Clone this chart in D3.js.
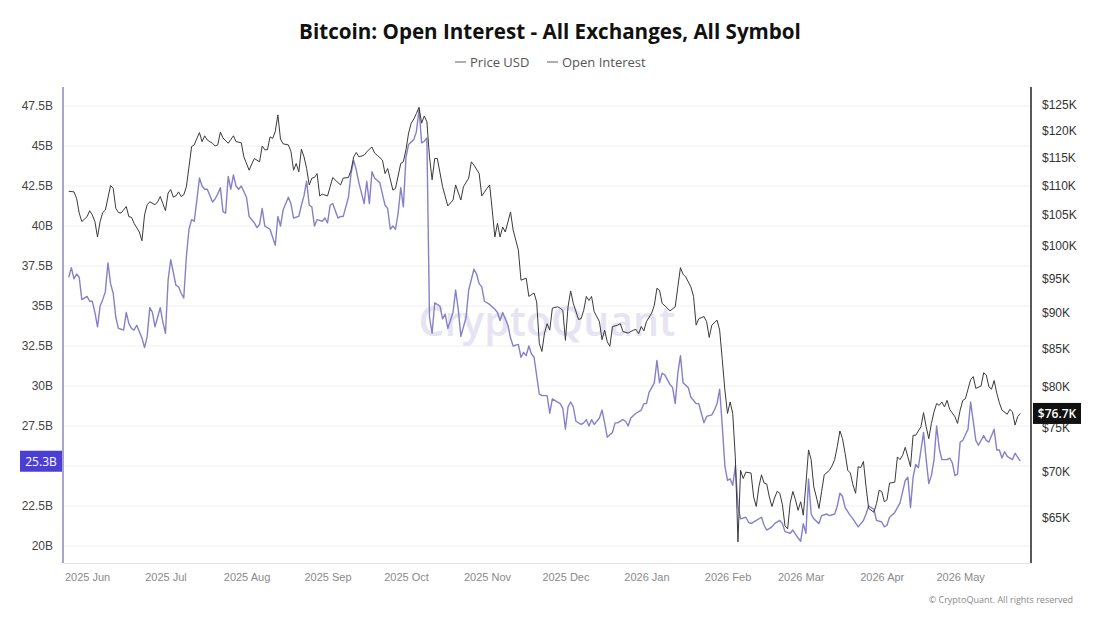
<!DOCTYPE html>
<html>
<head>
<meta charset="utf-8">
<script src="https://cdn.jsdelivr.net/npm/d3@7/dist/d3.min.js"></script>
<style>
  body { margin: 0; background: #fff; }
  svg { font-family: "Open Sans", sans-serif; }
</style>
</head>
<body>
<svg id="chart" width="1100" height="619"></svg>
<script>
// day offsets are counted from 2025-06-01
var baseDay = Date.UTC(2025, 5, 1);

// [day, price in $K]
var priceUsd = [
  [-7,109.0],[-5,108.9],[-4,107.8],[-3,105.3],[-2,103.9],[0,104.7],[1,105.7],[2,105.0],[3,103.9],[4,101.4],
  [5,103.9],[6,105.4],[7,105.8],[9,110.0],[10,109.5],[11,106.1],[12,105.4],[13,105.3],[15,106.4],[16,104.7],
  [17,104.6],[18,103.6],[20,102.2],[21,100.8],[22,105.0],[23,106.7],[24,107.2],[26,106.7],[27,107.2],[28,108.1],
  [29,106.9],[30,105.7],[31,108.7],[32,109.3],[33,108.0],[34,108.2],[35,108.9],[36,108.1],[37,108.4],[38,109.8],
  [39,113.3],[40,117.0],[41,117.3],[42,118.5],[43,119.6],[44,117.9],[45,119.0],[46,118.2],[48,117.6],[49,117.1],
  [50,117.3],[51,119.7],[52,118.6],[54,117.6],[56,119.0],[57,117.9],[59,117.7],[60,115.1],[62,112.7],[63,113.8],
  [64,114.8],[66,114.2],[67,117.1],[68,116.4],[69,116.4],[70,118.8],[71,118.5],[72,119.8],[73,123.0],[74,118.4],
  [75,117.5],[77,117.3],[78,116.1],[79,112.7],[80,113.9],[81,112.4],[82,116.5],[83,115.1],[84,113.0],[85,110.1],
  [86,111.3],[87,111.4],[88,112.1],[89,108.2],[90,108.5],[92,108.2],[93,109.8],[94,111.4],[96,110.5],[97,110.1],
  [98,111.3],[100,111.4],[101,112.7],[102,115.1],[103,115.9],[104,115.1],[106,115.4],[107,116.0],[108,116.5],[109,116.9],
  [110,115.8],[111,115.4],[113,114.5],[114,112.1],[115,113.0],[117,109.2],[118,109.5],[120,113.9],[121,114.2],[122,116.4],
  [123,119.5],[124,121.4],[125,122.2],[126,123.3],[127,124.5],[128,121.4],[129,122.8],[130,121.7],[131,115.1],[132,111.0],
  [133,114.8],[134,114.8],[136,109.8],[138,106.5],[140,107.5],[141,110.1],[143,107.5],[144,109.8],[146,111.3],[147,114.2],
  [148,113.6],[150,112.1],[151,108.2],[153,109.5],[154,110.1],[155,105.8],[156,101.4],[157,103.6],[158,101.4],[159,103.0],
  [160,102.2],[162,105.5],[163,102.5],[164,100.9],[165,99.3],[166,94.7],[168,95.0],[169,92.3],[171,92.8],[172,91.5],
  [173,85.7],[174,84.6],[175,87.1],[176,88.4],[177,87.5],[178,90.6],[180,90.8],[181,90.6],[182,90.3],[183,86.1],
  [184,90.8],[185,93.1],[186,91.3],[188,89.0],[189,89.1],[190,90.3],[191,92.3],[192,91.7],[193,92.3],[194,90.1],
  [196,88.7],[197,86.2],[198,87.5],[199,85.9],[200,85.3],[201,88.0],[203,88.2],[204,88.4],[205,87.3],[207,87.1],
  [209,87.5],[210,87.6],[211,87.0],[212,88.0],[213,87.4],[214,88.7],[216,89.9],[217,91.0],[218,93.5],[219,93.2],
  [220,91.3],[222,90.6],[223,90.2],[225,90.8],[226,93.7],[227,96.6],[228,95.6],[229,95.2],[231,93.7],[232,92.3],
  [233,88.2],[234,89.1],[236,89.4],[237,88.7],[238,86.5],[239,88.2],[241,88.9],[242,87.5],[243,83.5],[244,79.6],
  [245,76.7],[246,78.1],[247,76.7],[248,71.5],[249,62.6],[250,70.1],[251,69.2],[252,69.9],[254,69.8],[255,67.2],
  [256,66.2],[257,68.3],[258,69.6],[259,68.7],[260,68.6],[261,67.2],[262,66.2],[263,67.1],[264,67.8],[265,67.6],
  [266,66.4],[267,64.2],[268,63.9],[269,66.6],[270,67.8],[271,66.9],[272,65.8],[273,66.7],[274,65.3],[275,68.6],
  [276,72.4],[277,71.3],[278,68.3],[279,67.2],[280,66.0],[281,67.8],[282,69.6],[284,70.1],[285,70.6],[286,71.3],
  [287,72.8],[288,74.6],[289,73.7],[290,72.0],[291,70.1],[292,69.8],[293,68.5],[294,67.6],[295,70.5],[296,70.4],
  [297,71.1],[298,68.3],[299,66.0],[301,65.6],[302,66.5],[303,67.9],[304,67.8],[305,66.7],[306,66.9],[307,68.7],
  [309,68.8],[310,71.6],[311,71.3],[312,71.8],[313,72.7],[314,71.6],[315,70.5],[316,74.1],[317,74.1],[319,75.1],
  [320,76.8],[321,75.1],[322,73.7],[323,75.5],[324,76.9],[325,77.9],[326,77.7],[327,78.1],[328,77.5],[329,78.3],
  [330,77.2],[332,76.3],[333,75.5],[334,77.1],[335,78.3],[336,78.5],[337,79.7],[338,80.9],[339,81.3],[340,79.8],
  [342,80.1],[343,81.8],[344,81.5],[345,80.0],[346,79.7],[347,80.8],[348,79.2],[349,78.0],[350,77.1],[352,76.6],
  [353,77.2],[354,76.9],[355,75.3],[356,76.3],[357,76.7]
];

// [day, open interest in $B]
var openInterest = [
  [-7,36.8],[-6,37.4],[-5,36.7],[-4,37.0],[-3,36.8],[-2,35.4],[0,35.6],[1,35.3],[2,35.3],[3,34.6],
  [4,33.7],[5,35.0],[6,35.4],[7,35.9],[8,37.7],[9,36.4],[10,35.8],[11,34.3],[12,33.6],[14,33.5],
  [15,34.6],[16,33.9],[17,33.6],[18,33.5],[19,33.8],[21,33.0],[22,32.4],[23,33.1],[24,34.9],[25,34.6],
  [26,33.7],[27,34.3],[28,34.9],[29,34.0],[30,33.3],[31,36.6],[32,37.9],[34,36.3],[35,36.2],[36,35.8],
  [37,35.5],[38,38.1],[39,39.8],[40,40.4],[41,40.3],[42,41.6],[43,43.0],[44,42.5],[45,42.3],[46,42.3],
  [47,41.9],[48,41.5],[49,41.7],[50,42.0],[51,42.4],[52,40.9],[53,40.8],[54,43.1],[55,42.3],[56,43.2],
  [57,42.5],[58,42.3],[59,42.5],[61,41.8],[62,40.6],[64,40.2],[65,39.9],[66,40.1],[67,41.1],[68,40.0],
  [70,39.8],[71,39.3],[72,38.8],[73,40.6],[74,40.0],[75,41.0],[77,41.8],[78,41.4],[79,40.5],[81,40.6],
  [82,41.3],[83,41.9],[84,42.8],[85,41.3],[86,41.2],[87,40.0],[88,40.4],[90,40.3],[91,40.5],[92,40.2],
  [93,41.3],[94,41.4],[96,40.5],[97,40.6],[98,40.6],[100,41.8],[101,43.3],[102,44.1],[103,43.5],[104,42.7],
  [106,41.4],[107,42.8],[108,41.4],[109,43.4],[110,43.0],[112,42.7],[113,42.0],[114,41.3],[115,41.1],[116,39.8],
  [117,40.0],[118,39.8],[119,40.8],[120,42.4],[121,41.2],[122,44.3],[123,45.1],[125,45.4],[126,45.9],[127,47.3],
  [128,45.2],[129,45.3],[130,45.5],[131,34.3],[132,33.3],[133,35.2],[135,35.0],[136,34.2],[137,34.5],[138,33.6],
  [140,34.6],[141,36.0],[142,34.8],[143,33.1],[145,34.3],[146,36.0],[148,37.3],[149,37.0],[150,36.4],[151,36.2],
  [152,35.3],[154,35.1],[156,34.8],[157,34.6],[158,34.1],[159,34.6],[161,33.8],[162,33.0],[163,32.5],[165,32.6],
  [166,31.8],[167,32.1],[168,31.9],[169,32.5],[170,32.0],[171,31.8],[173,29.5],[174,29.4],[176,29.4],[177,28.3],
  [178,29.2],[180,29.0],[181,28.9],[182,28.6],[183,27.3],[184,28.7],[185,29.0],[186,28.7],[187,27.8],[189,27.6],
  [190,27.7],[191,27.9],[192,27.5],[193,27.9],[194,27.6],[196,28.0],[197,28.5],[198,27.7],[199,26.8],[201,27.1],
  [202,27.7],[203,27.7],[205,27.9],[206,27.8],[207,27.5],[208,28.0],[210,28.3],[212,28.5],[213,28.9],[214,28.9],
  [215,29.6],[217,30.2],[218,31.6],[219,30.2],[220,30.8],[221,30.7],[223,30.1],[224,29.9],[225,28.9],[226,30.8],
  [227,31.9],[228,30.2],[230,29.9],[231,29.3],[233,28.9],[234,28.9],[235,28.3],[236,27.7],[237,28.1],[239,28.2],
  [240,28.5],[241,28.9],[242,29.8],[243,27.5],[244,25.0],[245,24.1],[246,24.2],[247,23.8],[248,25.0],[249,22.5],
  [250,21.7],[252,21.8],[253,21.5],[254,21.4],[256,21.6],[258,21.8],[259,21.3],[260,21.0],[262,21.2],[263,21.4],
  [265,21.6],[266,21.4],[267,20.9],[269,20.8],[270,21.0],[272,20.5],[273,20.3],[274,21.4],[275,20.8],[276,24.2],
  [277,22.0],[278,21.7],[280,21.4],[281,21.9],[283,22.0],[284,21.9],[286,22.0],[287,22.5],[288,23.3],[289,23.1],
  [290,22.4],[292,21.9],[293,21.7],[295,21.2],[297,21.6],[298,22.0],[299,22.5],[301,22.3],[302,21.6],[304,21.5],
  [305,21.2],[306,21.3],[307,21.8],[309,22.1],[310,22.4],[311,22.7],[313,24.1],[314,24.3],[315,22.4],[316,24.3],
  [317,25.1],[318,24.9],[319,26.0],[320,27.1],[321,25.4],[322,23.9],[323,24.4],[324,25.4],[325,27.5],[326,26.1],
  [327,25.4],[329,25.4],[330,25.5],[331,25.2],[332,24.4],[333,24.5],[334,26.5],[335,26.6],[337,27.3],[338,29.0],
  [339,27.8],[340,26.6],[341,26.3],[343,26.9],[344,26.6],[345,26.5],[347,27.3],[348,26.0],[349,26.0],[350,25.5],
  [351,25.9],[352,25.6],[354,25.4],[355,25.8],[357,25.3]
];

var oiTicks = [20, 22.5, 25, 27.5, 30, 32.5, 35, 37.5, 40, 42.5, 45, 47.5];
var priceTicks = [65, 70, 75, 80, 85, 90, 95, 100, 105, 110, 115, 120, 125];
var lastOi = 25.3;
var lastPrice = 76.7;

var svgWidth = 1100;
var svgHeight = 619;
var margin = { top: 87, right: 69, bottom: 56, left: 63 };
var plotRight = svgWidth - margin.right;
var plotBottom = svgHeight - margin.bottom;

function toDate(d) { return new Date(baseDay + d * 864e5); }

var svg = d3.select("#chart");

var x = d3.scaleUtc()
  .domain([toDate(-9.2), toDate(361.1)])
  .range([margin.left, plotRight]);

var yOi = d3.scaleLinear()
  .domain([18.94, 48.69])
  .range([plotBottom, margin.top]);

var yPrice = d3.scaleLog()
  .domain([60.54, 128.55])
  .range([plotBottom, margin.top]);

// title + legend
svg.append("text")
  .attr("x", svgWidth / 2).attr("y", 39)
  .attr("text-anchor", "middle")
  .style("font-weight", 700)
  .style("font-size", "20.6px")
  .attr("fill", "#111")
  .text("Bitcoin: Open Interest - All Exchanges, All Symbol");

var legend = svg.append("g").attr("class", "legend");
var legendItems = [
  { label: "Price USD", x: 455 },
  { label: "Open Interest", x: 547 }
];
legendItems.forEach(function (item) {
  legend.append("line")
    .attr("x1", item.x).attr("x2", item.x + 11)
    .attr("y1", 62).attr("y2", 62)
    .attr("stroke", "#777").attr("stroke-width", 1.2);
  legend.append("text")
    .attr("x", item.x + 15).attr("y", 66.5)
    .style("font-size", "13px")
    .attr("fill", "#555")
    .text(item.label);
});

// gridlines
svg.append("g")
  .selectAll("line")
  .data(oiTicks)
  .enter()
  .append("line")
  .attr("x1", margin.left).attr("x2", plotRight)
  .attr("y1", d => yOi(d)).attr("y2", d => yOi(d))
  .attr("stroke", "#f1f1f4");

// watermark
svg.append("text")
  .attr("x", 547).attr("y", 336)
  .attr("text-anchor", "middle")
  .style("font-size", "41px")
  .style("font-weight", 600)
  .attr("fill", "#e6e4f2")
  .text("CryptoQuant");

// x axis
var monthTicks = d3.utcMonth.range(new Date(Date.UTC(2025, 5, 1)), new Date(Date.UTC(2026, 5, 1)));
var bottomAxis = d3.axisBottom(x)
  .tickValues(monthTicks)
  .tickFormat(d3.utcFormat("%Y %b"))
  .tickSize(0)
  .tickPadding(10);

var xg = svg.append("g")
  .attr("transform", `translate(0, ${plotBottom})`)
  .call(bottomAxis);
xg.select(".domain").attr("stroke", "#e2e2e2");
xg.selectAll("text").style("font-size", "11px").attr("fill", "#8a8a8a");

// left axis (open interest); the 25B label sits under the last-value flag
var leftAxis = d3.axisLeft(yOi)
  .tickValues(oiTicks)
  .tickFormat(d => d === 25 ? "" : d + "B")
  .tickSize(0)
  .tickPadding(10);

var lg = svg.append("g")
  .attr("transform", `translate(${margin.left}, 0)`)
  .call(leftAxis);
lg.select(".domain").remove();
lg.selectAll("text").style("font-size", "12px").attr("fill", "#444");
svg.append("line")
  .attr("x1", margin.left).attr("x2", margin.left)
  .attr("y1", margin.top).attr("y2", plotBottom)
  .attr("stroke", "#a8a4cc").attr("stroke-width", 2);

// right axis (price)
var rightAxis = d3.axisRight(yPrice)
  .tickValues(priceTicks)
  .tickFormat(d => "$" + d + "K")
  .tickSize(0)
  .tickPadding(11);

var rg = svg.append("g")
  .attr("transform", `translate(${plotRight}, 0)`)
  .call(rightAxis);
rg.select(".domain").remove();
rg.selectAll("text").style("font-size", "12px").attr("fill", "#333");
svg.append("line")
  .attr("x1", plotRight).attr("x2", plotRight)
  .attr("y1", margin.top).attr("y2", plotBottom)
  .attr("stroke", "#222").attr("stroke-width", 1.5);

// lines
var oiLine = d3.line()
  .x(d => x(toDate(d[0])))
  .y(d => yOi(d[1]));

var priceLine = d3.line()
  .x(d => x(toDate(d[0])))
  .y(d => yPrice(d[1]));

svg.append("path")
  .datum(openInterest)
  .attr("d", oiLine)
  .attr("fill", "none")
  .attr("stroke", "#8680ca")
  .attr("stroke-width", 1.4)
  .attr("stroke-linejoin", "round");

svg.append("path")
  .datum(priceUsd)
  .attr("d", priceLine)
  .attr("fill", "none")
  .attr("stroke", "#3a3a3a")
  .attr("stroke-width", 1)
  .attr("stroke-linejoin", "round");

// last value flags
var oiY = yOi(lastOi);
svg.append("rect")
  .attr("x", 20).attr("y", oiY - 10.5)
  .attr("width", 42).attr("height", 21)
  .attr("fill", "#4b3fd3");
svg.append("text")
  .attr("x", 41).attr("y", oiY + 4.5)
  .attr("text-anchor", "middle")
  .style("font-size", "12px")
  .attr("fill", "#fff")
  .text(lastOi + "B");

var priceY = yPrice(lastPrice);
svg.append("rect")
  .attr("x", plotRight + 2).attr("y", priceY - 10.5)
  .attr("width", 48).attr("height", 21)
  .attr("fill", "#111");
svg.append("text")
  .attr("x", plotRight + 26).attr("y", priceY + 4.5)
  .attr("text-anchor", "middle")
  .style("font-size", "12px")
  .style("font-weight", 600)
  .attr("fill", "#fff")
  .text("$" + lastPrice + "K");

// footer
svg.append("text")
  .attr("x", 1073).attr("y", 603)
  .attr("text-anchor", "end")
  .style("font-size", "9px")
  .attr("fill", "#888")
  .text("\u00a9 CryptoQuant. All rights reserved");
</script>
</body>
</html>
